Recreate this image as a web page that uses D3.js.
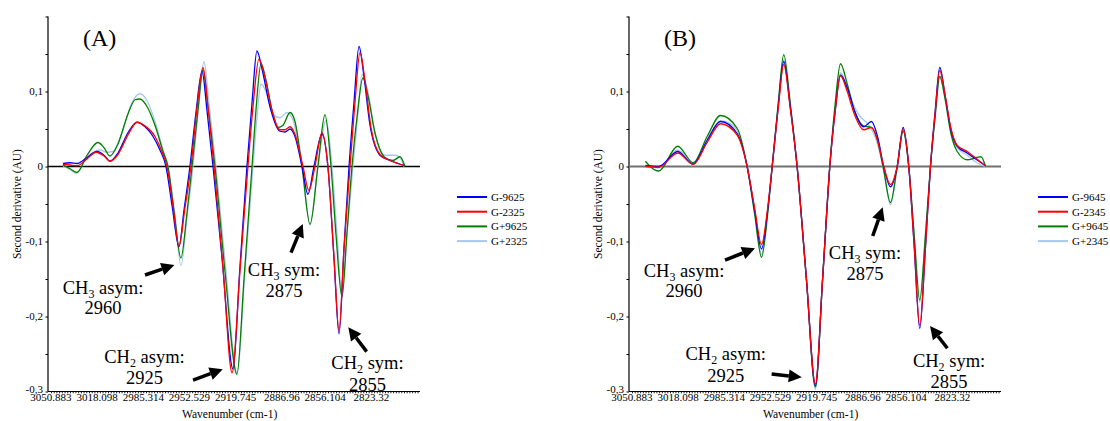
<!DOCTYPE html>
<html><head><meta charset="utf-8">
<script src="https://cdn.jsdelivr.net/npm/d3@7"></script>
<style>body{margin:0;background:#fff}svg{display:block}text{font-family:"Liberation Serif","Times New Roman",serif;fill:#000}</style>
</head><body><svg id="c" width="1110" height="421" font-family="Liberation Serif, Times New Roman, serif"></svg>
<script>
// ---------------- DATA ----------------
const xTickLabels = [3050.883, 3018.098, 2985.314, 2952.529, 2919.745, 2886.96, 2856.104, 2823.32];
const yTickLabels = [-0.3, -0.2, -0.1, 0, 0.1];
const yMinorTicks = [-0.3, -0.25, -0.2, -0.15, -0.1, -0.05, 0, 0.05, 0.1, 0.15, 0.2];
const pointSpacing = 1.9285; // cm-1 between spectrum points (minor x ticks)

const namesA = ["G-9625", "G-2325", "G+9625", "G+2325"];
const namesB = ["G-9645", "G-2345", "G+9645", "G+2345"];

// Panel A: [wavenumber, second derivative]
const aBlue = [[3042.4,0.004],[3037.4,0.005],[3032.4,0.004],[3025.3,0.012],[3018.2,0.020],[3013.2,0.015],[3009.0,0.007],[3003.3,0.018],[2996.2,0.045],[2989.8,0.059],[2984.1,0.053],[2978.4,0.040],[2973.5,0.022],[2969.2,0.000],[2964.9,-0.052],[2960.0,-0.107],[2956.4,-0.058],[2952.2,0.000],[2947.9,0.072],[2943.6,0.127],[2940.1,0.075],[2935.8,0.000],[2929.4,-0.122],[2921.6,-0.270],[2916.7,-0.135],[2911.7,0.000],[2908.1,0.085],[2904.6,0.154],[2901.0,0.130],[2895.4,0.080],[2888.2,0.047],[2884.7,0.046],[2881.1,0.050],[2877.6,0.040],[2872.6,0.000],[2868.4,-0.037],[2864.1,0.000],[2858.4,0.043],[2854.2,0.000],[2849.9,-0.122],[2846.3,-0.223],[2842.8,-0.110],[2839.2,0.000],[2835.7,0.085],[2832.1,0.160],[2828.6,0.120],[2824.3,0.055],[2817.2,0.015],[2810.1,0.008],[2804.4,0.004],[2799.5,0.001]];
const aRed = [[3042.4,0.003],[3037.4,0.002],[3032.4,0.001],[3025.3,0.010],[3018.9,0.019],[3013.2,0.014],[3009.0,0.007],[3003.3,0.016],[2996.2,0.042],[2989.8,0.059],[2984.1,0.054],[2977.0,0.040],[2972.1,0.020],[2968.5,0.000],[2964.2,-0.052],[2960.0,-0.106],[2955.7,-0.055],[2951.5,0.000],[2947.2,0.078],[2942.9,0.132],[2939.4,0.080],[2935.1,0.000],[2928.7,-0.135],[2922.3,-0.275],[2916.7,-0.140],[2911.0,0.000],[2907.4,0.080],[2903.2,0.143],[2899.6,0.125],[2894.6,0.080],[2888.2,0.049],[2884.7,0.049],[2881.1,0.053],[2877.6,0.043],[2871.9,0.000],[2867.7,-0.032],[2863.4,0.000],[2858.4,0.045],[2854.2,0.000],[2849.9,-0.120],[2846.3,-0.219],[2842.8,-0.110],[2838.5,0.000],[2835.0,0.085],[2831.4,0.152],[2827.9,0.115],[2823.6,0.052],[2817.2,0.016],[2810.1,0.008],[2804.4,0.004],[2799.5,0.001]];
const aGreen = [[3042.4,0.002],[3037.4,-0.003],[3032.4,-0.008],[3025.3,0.015],[3017.5,0.032],[3013.2,0.025],[3009.0,0.014],[3003.3,0.030],[2996.2,0.070],[2991.2,0.089],[2987.7,0.090],[2982.7,0.080],[2977.0,0.055],[2971.3,0.020],[2967.8,0.000],[2963.5,-0.060],[2958.6,-0.122],[2954.3,-0.062],[2950.7,0.000],[2946.5,0.075],[2942.9,0.129],[2939.4,0.080],[2934.4,0.000],[2927.3,-0.140],[2918.8,-0.277],[2913.8,-0.150],[2908.1,0.000],[2905.3,0.075],[2901.7,0.137],[2898.2,0.115],[2893.9,0.075],[2889.7,0.052],[2886.1,0.055],[2881.1,0.072],[2877.6,0.060],[2872.6,0.000],[2866.9,-0.077],[2861.3,0.000],[2856.3,0.069],[2852.0,0.000],[2848.5,-0.090],[2844.2,-0.174],[2840.7,-0.090],[2837.1,0.000],[2833.6,0.065],[2829.3,0.118],[2825.8,0.095],[2820.8,0.045],[2813.7,0.012],[2808.0,0.008],[2803.0,0.013],[2799.5,0.000]];
const aLight = [[3042.4,0.000],[3037.4,-0.004],[3033.1,-0.009],[3025.3,0.012],[3016.1,0.022],[3011.1,0.019],[3006.9,0.020],[3000.5,0.045],[2993.4,0.085],[2987.7,0.097],[2982.7,0.088],[2977.0,0.060],[2971.3,0.022],[2967.8,0.000],[2962.8,-0.065],[2958.6,-0.132],[2954.3,-0.068],[2950.0,0.000],[2945.8,0.085],[2942.2,0.140],[2938.7,0.085],[2933.7,0.000],[2926.6,-0.140],[2918.8,-0.275],[2913.1,-0.140],[2907.4,0.000],[2904.6,0.065],[2901.7,0.110],[2898.2,0.100],[2893.2,0.070],[2888.2,0.065],[2883.3,0.072],[2879.0,0.062],[2872.6,0.000],[2866.9,-0.078],[2861.3,0.000],[2855.6,0.061],[2851.3,0.000],[2847.8,-0.088],[2844.2,-0.170],[2840.7,-0.090],[2836.4,0.000],[2832.9,0.070],[2830.0,0.123],[2825.8,0.100],[2820.8,0.045],[2813.7,0.015],[2806.6,0.015],[2803.0,0.012],[2800.2,0.000]];

// Panel B
const bBlue = [[3041.3,0.001],[3031.9,0.000],[3018.4,0.020],[3007.4,0.003],[2997.5,0.035],[2988.0,0.060],[2976.2,0.044],[2969.1,0.000],[2963.8,-0.058],[2958.9,-0.110],[2954.5,-0.058],[2951.3,0.000],[2947.0,0.080],[2943.1,0.140],[2938.5,0.080],[2933.6,0.000],[2927.0,-0.150],[2920.6,-0.292],[2915.5,-0.150],[2910.4,0.000],[2906.5,0.075],[2902.8,0.122],[2898.0,0.105],[2893.0,0.075],[2886.3,0.053],[2880.8,0.060],[2876.5,0.040],[2872.1,0.000],[2867.3,-0.027],[2862.5,0.000],[2858.3,0.052],[2854.3,0.000],[2850.5,-0.105],[2846.5,-0.216],[2842.5,-0.110],[2838.9,0.000],[2835.5,0.075],[2832.3,0.132],[2828.5,0.095],[2824.5,0.050],[2819.9,0.027],[2812.8,0.018],[2806.0,0.009],[2799.8,0.001]];
const bRed = [[3041.3,0.000],[3031.9,-0.001],[3018.4,0.018],[3007.4,0.003],[2997.5,0.032],[2988.0,0.057],[2976.2,0.042],[2969.1,0.000],[2963.8,-0.055],[2958.9,-0.104],[2954.5,-0.055],[2951.3,0.000],[2947.0,0.078],[2943.1,0.136],[2938.5,0.078],[2933.6,0.000],[2927.0,-0.150],[2920.6,-0.290],[2915.5,-0.150],[2910.4,0.000],[2906.5,0.075],[2902.8,0.121],[2898.0,0.100],[2893.0,0.070],[2886.3,0.049],[2880.8,0.052],[2876.5,0.035],[2872.1,0.000],[2867.3,-0.024],[2862.5,0.000],[2858.3,0.050],[2854.3,0.000],[2850.5,-0.103],[2846.5,-0.212],[2842.5,-0.108],[2838.9,0.000],[2835.5,0.073],[2832.3,0.128],[2828.5,0.095],[2824.5,0.052],[2819.9,0.028],[2812.8,0.020],[2806.0,0.010],[2799.8,0.001]];
const bGreen = [[3041.3,0.007],[3038.0,0.000],[3031.9,-0.006],[3018.4,0.027],[3007.4,0.005],[2997.5,0.040],[2988.0,0.068],[2976.2,0.051],[2969.1,0.000],[2963.8,-0.063],[2958.9,-0.121],[2954.5,-0.063],[2951.3,0.000],[2947.0,0.085],[2943.1,0.149],[2938.5,0.085],[2933.6,0.000],[2927.0,-0.150],[2920.6,-0.294],[2915.5,-0.150],[2910.4,0.000],[2906.5,0.085],[2902.8,0.137],[2898.0,0.110],[2893.0,0.075],[2886.3,0.054],[2880.8,0.052],[2876.5,0.035],[2872.1,-0.005],[2867.3,-0.048],[2862.5,0.000],[2858.3,0.047],[2854.3,0.000],[2850.5,-0.090],[2846.5,-0.178],[2842.5,-0.092],[2838.9,0.000],[2835.5,0.068],[2832.3,0.120],[2828.5,0.090],[2824.5,0.045],[2819.9,0.020],[2812.8,0.009],[2806.0,0.012],[2803.0,0.013],[2799.8,0.000]];
const bLight = [[3041.3,0.002],[3031.9,-0.002],[3018.4,0.022],[3007.4,0.004],[2997.5,0.035],[2988.0,0.061],[2982.0,0.058],[2976.2,0.048],[2969.1,0.000],[2963.8,-0.060],[2958.9,-0.117],[2954.5,-0.060],[2951.3,0.000],[2947.0,0.082],[2943.1,0.142],[2938.5,0.082],[2933.6,0.000],[2927.0,-0.150],[2920.6,-0.297],[2915.5,-0.150],[2910.4,0.000],[2906.5,0.078],[2902.8,0.125],[2898.0,0.105],[2893.0,0.080],[2889.0,0.067],[2884.0,0.058],[2880.8,0.050],[2876.5,0.030],[2872.1,-0.005],[2867.3,-0.051],[2862.5,0.000],[2858.3,0.048],[2854.3,0.000],[2850.5,-0.092],[2846.5,-0.181],[2842.5,-0.093],[2838.9,0.000],[2835.5,0.068],[2832.3,0.120],[2828.5,0.092],[2824.5,0.050],[2819.9,0.025],[2812.8,0.015],[2806.0,0.005],[2799.8,0.000]];

// annotations in data coordinates: [wavenumber, value]
const annLabelsA = [
  {sub:"3", kind:"asym", num:"2960", at:[3013.9,-0.170], at2:[3013.9,-0.196]},
  {sub:"2", kind:"asym", num:"2925", at:[2984.5,-0.2616], at2:[2984.5,-0.290]},
  {sub:"3", kind:"sym", num:"2875", at:[2885.4,-0.146], at2:[2885.4,-0.1736]},
  {sub:"2", kind:"sym", num:"2855", at:[2826.1,-0.270], at2:[2826.1,-0.2989]}
];
const annArrowsA = [
  {from:[2984.1,-0.1447], to:[2963.2,-0.1313]},
  {from:[2950.0,-0.2847], to:[2928.9,-0.2704]},
  {from:[2880.4,-0.1149], to:[2872.1,-0.0767]},
  {from:[2826.7,-0.2469], to:[2839.7,-0.2144]}
];
const annLabelsB = [
  {sub:"3", kind:"asym", num:"2960", at:[3013.9,-0.1477], at2:[3013.9,-0.1744]},
  {sub:"2", kind:"asym", num:"2925", at:[2984.3,-0.258], at2:[2984.3,-0.287]},
  {sub:"3", kind:"sym", num:"2875", at:[2885.4,-0.1237], at2:[2885.4,-0.1513]},
  {sub:"2", kind:"sym", num:"2855", at:[2825.7,-0.2669], at2:[2825.7,-0.2957]}
];
const annArrowsB = [
  {from:[2984.8,-0.1247], to:[2963.5,-0.109]},
  {from:[2951.7,-0.2767], to:[2930.3,-0.2811]},
  {from:[2879.9,-0.0927], to:[2872.8,-0.0544]},
  {from:[2826.9,-0.2424], to:[2839.2,-0.2127]}
];

// ---------------- STYLE ----------------
const colors = ["#0000ff", "#ff0000", "#008000", "#a9c8ec"];
const drawOrder = [3, 2, 0, 1];
const serif = "Liberation Serif, Times New Roman, serif";

const svg = d3.select("#c");

function panel(opt) {
  const x = d3.scaleLinear().domain([3053.0, 2788.8]).range([opt.x0, opt.x0 + 372]);
  const y = d3.scaleLinear().domain([-0.3, 0.2]).range([391.5, 16.5]);
  const g = svg.append("g").attr("font-family", serif);

  // y axis
  const yAxis = g.append("g").attr("transform", `translate(${opt.x0},0)`)
    .call(d3.axisLeft(y).tickValues(yMinorTicks).tickSize(2.5).tickFormat(""));
  yAxis.select(".domain").attr("d", `M0,${y(0.2)}V${y(-0.3)}`).attr("stroke", "#000").attr("stroke-width", 1.2);
  yAxis.selectAll(".tick line").attr("stroke", "#000");
  g.append("g").selectAll("text").data(yTickLabels).join("text")
    .attr("font-family", serif)
    .attr("x", opt.x0 - 5).attr("y", d => y(d) + (d === -0.3 ? 1.5 : 3.8))
    .attr("text-anchor", "end").attr("font-size", 11)
    .text(d => d === 0 ? "0" : d3.format(".1f")(d).replace("−", "-").replace(".", ","));

  // x axis
  const minor = d3.range(3050.883, 2789.5, -pointSpacing);
  const xAxis = g.append("g").attr("transform", `translate(0,${y(-0.3)})`)
    .call(d3.axisBottom(x).tickValues(minor).tickSize(1.8).tickFormat(""));
  xAxis.select(".domain").attr("d", `M${opt.x0},0H${opt.x0 + 372}`).attr("stroke", "#000").attr("stroke-width", 1.2);
  xAxis.selectAll(".tick line").attr("stroke", "#000").attr("stroke-width", 0.9);
  g.append("g").selectAll("text").data(xTickLabels).join("text")
    .attr("font-family", serif)
    .attr("x", d => x(d)).attr("y", 400.5)
    .attr("text-anchor", "middle").attr("font-size", 11)
    .text(d => String(d));

  // axis titles
  g.append("text").attr("font-family", serif).attr("x", x(2919.745) - 6).attr("y", 418).attr("text-anchor", "middle")
    .attr("font-size", 11.5).text("Wavenumber (cm-1)");
  g.append("text").attr("font-family", serif).attr("transform", `translate(${opt.x0 - 27},${y(-0.05)}) rotate(-90)`)
    .attr("text-anchor", "middle").attr("font-size", 11.5).text("Second derivative (AU)");

  // zero line
  g.append("line").attr("x1", opt.x0).attr("x2", opt.x0 + 372).attr("y1", y(0)).attr("y2", y(0))
    .attr("stroke", opt.zeroColor).attr("stroke-width", opt.zeroWidth);

  // series
  const line = d3.line().x(d => x(d[0])).y(d => y(d[1])).curve(d3.curveMonotoneX);
  drawOrder.forEach(i => {
    g.append("path").datum(opt.series[i]).attr("d", line)
      .attr("fill", "none").attr("stroke", colors[i]).attr("stroke-width", 1.3).attr("stroke-linejoin", "round");
  });

  // title
  g.append("text").attr("font-family", serif).attr("x", opt.x0 + 35).attr("y", 46).attr("font-size", 24).text(opt.title);

  // annotation labels
  opt.labels.forEach(a => {
    const t = g.append("text").attr("font-family", serif).attr("x", x(a.at[0])).attr("y", y(a.at[1]))
      .attr("text-anchor", "middle").attr("font-size", 18.5);
    t.append("tspan").text("CH");
    t.append("tspan").attr("font-size", 12).attr("dy", 4).text(a.sub);
    t.append("tspan").attr("dy", -4).text(" " + a.kind + ":");
    g.append("text").attr("font-family", serif).attr("x", x(a.at2[0])).attr("y", y(a.at2[1]))
      .attr("text-anchor", "middle").attr("font-size", 18.5).text(a.num);
  });

  // arrows
  opt.arrows.forEach(a => {
    const x1 = x(a.from[0]), y1 = y(a.from[1]), x2 = x(a.to[0]), y2 = y(a.to[1]);
    const ang = Math.atan2(y2 - y1, x2 - x1);
    const L = 13, W = 6.5;
    const bx = x2 - L * Math.cos(ang), by = y2 - L * Math.sin(ang);
    g.append("line").attr("x1", x1).attr("y1", y1).attr("x2", bx).attr("y2", by)
      .attr("stroke", "#000").attr("stroke-width", 3.5);
    const px = -Math.sin(ang) * W, py = Math.cos(ang) * W;
    g.append("path").attr("d", `M${x2},${y2}L${bx + px},${by + py}L${bx - px},${by - py}Z`).attr("fill", "#000");
  });

  // legend
  const lg = g.append("g");
  opt.names.forEach((n, i) => {
    const yy = 197 + i * 14.7;
    lg.append("line").attr("x1", opt.x0 + 409).attr("x2", opt.x0 + 439).attr("y1", yy).attr("y2", yy)
      .attr("stroke", colors[i]).attr("stroke-width", 2);
    lg.append("text").attr("font-family", serif).attr("x", opt.x0 + 443).attr("y", yy + 4).attr("font-size", 11).text(n);
  });
}

panel({x0: 48, title: "(A)", series: [aBlue, aRed, aGreen, aLight], names: namesA,
  labels: annLabelsA, arrows: annArrowsA, zeroColor: "#000", zeroWidth: 1.4});
panel({x0: 629, title: "(B)", series: [bBlue, bRed, bGreen, bLight], names: namesB,
  labels: annLabelsB, arrows: annArrowsB, zeroColor: "#707070", zeroWidth: 2});
</script></body></html>
